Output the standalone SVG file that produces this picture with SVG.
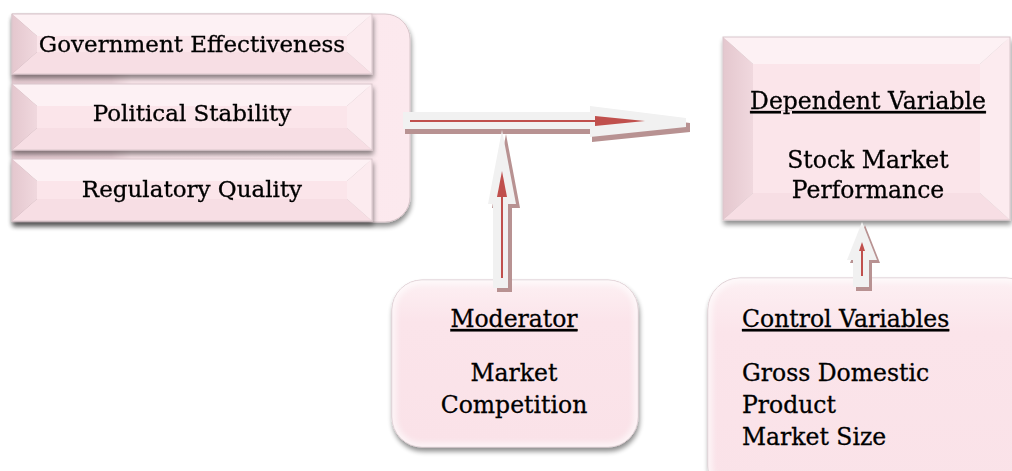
<svg xmlns="http://www.w3.org/2000/svg" width="1012" height="471" viewBox="0 0 1012 471">
  <defs>
    <filter id="shadow" x="-10%" y="-10%" width="120%" height="130%">
      <feGaussianBlur in="SourceAlpha" stdDeviation="2.5"/>
      <feOffset dx="1" dy="4" result="b"/>
      <feComponentTransfer><feFuncA type="linear" slope="0.45"/></feComponentTransfer>
      <feMerge><feMergeNode/><feMergeNode in="SourceGraphic"/></feMerge>
    </filter>
    <filter id="soft" x="-20%" y="-20%" width="140%" height="140%">
      <feGaussianBlur stdDeviation="3"/>
    </filter>
    <linearGradient id="roundFill" x1="0" y1="0" x2="0" y2="1">
      <stop offset="0" stop-color="#fdf0f3"/>
      <stop offset="0.25" stop-color="#fbe4ea"/>
      <stop offset="1" stop-color="#fae2e8"/>
    </linearGradient>
    <linearGradient id="capFill" x1="0" y1="0" x2="1" y2="0">
      <stop offset="0" stop-color="#e6cbd2"/>
      <stop offset="0.25" stop-color="#ead1d7"/>
      <stop offset="0.3" stop-color="#fbe6eb"/>
      <stop offset="1" stop-color="#fce9ee"/>
    </linearGradient>
    <linearGradient id="leftBevel" x1="0" y1="0" x2="1" y2="0">
      <stop offset="0" stop-color="#e4c7ce"/>
      <stop offset="1" stop-color="#f0d8de"/>
    </linearGradient>
    <clipPath id="modClip"><rect x="392" y="280" width="246" height="167" rx="30"/></clipPath>
    <clipPath id="ctrlClip"><rect x="708" y="278" width="330" height="220" rx="32"/></clipPath>
  </defs>
  <style>
    .lbl { font-family: "DejaVu Serif", "Liberation Serif", serif; fill: #000; stroke: #000; stroke-width: 0.3; }
    .s22 { font-size: 23px; }
    .s23 { font-size: 23.5px; }
    .mid { text-anchor: middle; }
    .u { text-decoration: underline; }
    .bt { fill: #fdf1f4; }
    .bl { fill: url(#leftBevel); }
    .br { fill: #fcebef; }
    .bb { fill: #f7dee4; }
    .bc { fill: #fbe5ea; }
    .edge { fill: none; stroke: #d9c6cb; stroke-width: 1; }
    .arrowBody { fill: #f1f1f1; }
    .arrowShade { fill: #b89292; }
    .redLine { stroke: #c0504d; stroke-width: 2; fill: none; }
    .redHead { fill: #c0504d; }
  </style>

  <rect width="1012" height="471" fill="#ffffff"/>

  <!-- independent variables: rounded backing with three bevelled bars -->
  <g id="independent">
    <g filter="url(#shadow)">
      <path d="M12,14 H385 A25,25 0 0 1 410,39 V197 A25,25 0 0 1 385,222 H12 Z" fill="url(#capFill)" stroke="#d9c6cb"/>
    </g>
    <g id="gov" filter="url(#shadow)">
      <polygon class="bt" points="12,14 372,14 347,36 37,36"/>
      <polygon class="bb" points="12,74 372,74 347,52 37,52"/>
      <polygon class="bl" points="12,14 37,36 37,52 12,74"/>
      <polygon class="br" points="372,14 347,36 347,52 372,74"/>
      <rect class="bc" x="37" y="36" width="310" height="16"/>
      <rect class="edge" x="12" y="14" width="360" height="60"/>
      <text class="lbl s22 mid" x="192" y="52">Government Effectiveness</text>
    </g>
    <g id="pol" filter="url(#shadow)">
      <polygon class="bt" points="12,84 372,84 347,106 37,106"/>
      <polygon class="bb" points="12,150 372,150 347,128 37,128"/>
      <polygon class="bl" points="12,84 37,106 37,128 12,150"/>
      <polygon class="br" points="372,84 347,106 347,128 372,150"/>
      <rect class="bc" x="37" y="106" width="310" height="22"/>
      <rect class="edge" x="12" y="84" width="360" height="66"/>
      <text class="lbl s22 mid" x="192" y="121">Political Stability</text>
    </g>
    <g id="reg" filter="url(#shadow)">
      <polygon class="bt" points="12,159 372,159 347,181 37,181"/>
      <polygon class="bb" points="12,221 372,221 347,199 37,199"/>
      <polygon class="bl" points="12,159 37,181 37,199 12,221"/>
      <polygon class="br" points="372,159 347,181 347,199 372,221"/>
      <rect class="bc" x="37" y="181" width="310" height="18"/>
      <rect class="edge" x="12" y="159" width="360" height="62"/>
      <text class="lbl s22 mid" x="192" y="197">Regulatory Quality</text>
    </g>
  </g>

  <!-- dependent variable -->
  <g id="dependent" filter="url(#shadow)">
    <polygon class="bt" points="723,37 1010,37 980,64 753,64"/>
    <polygon class="bb" points="723,220 1010,220 980,193 753,193"/>
    <polygon class="bl" points="723,37 753,64 753,193 723,220"/>
    <polygon class="br" points="1010,37 980,64 980,193 1010,220"/>
    <rect class="bc" x="753" y="64" width="227" height="129"/>
    <rect class="edge" x="723" y="37" width="287" height="183"/>
    <text class="lbl s23 mid u" x="868" y="109">Dependent Variable</text>
    <text class="lbl s23 mid" x="868" y="168">Stock Market</text>
    <text class="lbl s23 mid" x="868" y="198">Performance</text>
  </g>

  <!-- moderator -->
  <g id="moderator">
    <g filter="url(#shadow)">
      <rect x="392" y="280" width="246" height="167" rx="30" fill="url(#roundFill)" stroke="#d8c4ca"/>
    </g>
    <g clip-path="url(#modClip)">
      <rect x="392" y="280" width="246" height="167" rx="30" fill="none" stroke="#ffffff" stroke-width="8" opacity="0.7" filter="url(#soft)"/>
    </g>
    <text class="lbl s23 mid u" x="514" y="327">Moderator</text>
    <text class="lbl s23 mid" x="514" y="381">Market</text>
    <text class="lbl s23 mid" x="514" y="413">Competition</text>
  </g>

  <!-- control variables -->
  <g id="controls">
    <g filter="url(#shadow)">
      <rect x="708" y="278" width="330" height="220" rx="32" fill="url(#roundFill)" stroke="#d8c4ca"/>
    </g>
    <g clip-path="url(#ctrlClip)">
      <rect x="708" y="278" width="330" height="220" rx="32" fill="none" stroke="#ffffff" stroke-width="8" opacity="0.7" filter="url(#soft)"/>
    </g>
    <text class="lbl s23 u" x="742" y="327">Control Variables</text>
    <text class="lbl s23" x="742" y="381">Gross Domestic</text>
    <text class="lbl s23" x="742" y="413">Product</text>
    <text class="lbl s23" x="742" y="445">Market Size</text>
  </g>

  <!-- connectors: block arrows with a thin red arrow inside -->
  <g id="connectors">
    <g id="arrow-main">
      <polygon class="arrowShade" points="405,117 592,117 592,111 690,123 690,132 592,142 592,134 405,134"/>
      <polygon class="arrowBody" points="403,112 590,112 590,106 686,118 686,127 590,137 590,129 403,129"/>
      <line class="redLine" x1="410" y1="121" x2="600" y2="121"/>
      <polygon class="redHead" points="595,116 645,121 595,126"/>
    </g>
    <g id="arrow-moderator">
      <polygon class="arrowShade" points="497,292 497,208 492,208 506,134 520,208 512,208 512,292"/>
      <polygon class="arrowBody" points="493,288 493,204 488,204 502,130 516,204 508,204 508,288"/>
      <line class="redLine" x1="502" y1="278" x2="502" y2="190"/>
      <polygon class="redHead" points="497,197 502,171 507,197"/>
    </g>
    <g id="arrow-control">
      <polygon class="arrowShade" points="856,291 856,263 850,263 865,225 880,263 872,263 872,291"/>
      <polygon class="arrowBody" points="853,287 853,260 847,260 862,222 877,260 869,260 869,287"/>
      <line class="redLine" x1="862" y1="276" x2="862" y2="248" stroke-width="1.5"/>
      <polygon class="redHead" points="859,251 862,242 865,251"/>
    </g>
  </g>
</svg>
